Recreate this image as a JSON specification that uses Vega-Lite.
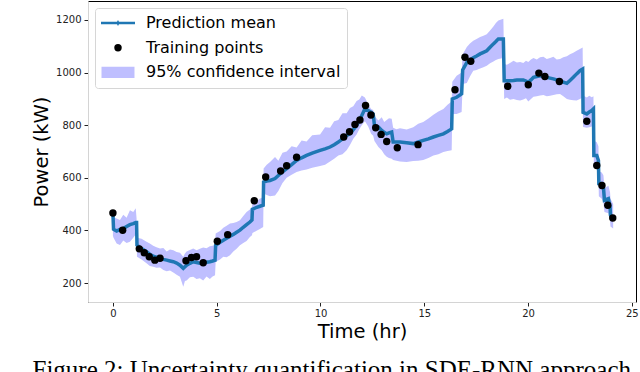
{
  "$schema": "https://vega.github.io/schema/vega-lite/v6.json",
  "width": 548,
  "height": 301,
  "autosize": {"type": "none"},
  "padding": {"left": 88, "top": 1, "right": 4, "bottom": 70},
  "background": "white",
  "title": {
    "text": "Figure 2: Uncertainty quantification in SDE-RNN approach.",
    "orient": "bottom",
    "anchor": "middle",
    "frame": "bounds",
    "font": "Liberation Serif",
    "fontSize": 25,
    "fontWeight": "normal",
    "color": "#000",
    "offset": 17
  },
  "config": {
    "view": {"stroke": "#000", "strokeWidth": 1},
    "font": "DejaVu Sans",
    "axis": {
      "labelFont": "DejaVu Sans", "labelFontSize": 10, "labelColor": "#222",
      "tickColor": "#222", "tickSize": 4, "domainColor": "#d4d4d4",
      "titleFont": "DejaVu Sans", "titleFontSize": 19.5, "titleFontWeight": "normal",
      "titleColor": "#000", "grid": false, "labelPadding": 2
    },
    "axisY": {"titlePadding": 4, "labelPadding": 3},
    "axisX": {"titlePadding": 4},
    "legend": {
      "orient": "top-left", "offset": 7, "padding": 6, "title": null,
      "strokeColor": "#d6d6d6", "fillColor": "rgba(255,255,255,0.8)", "cornerRadius": 3,
      "labelFont": "DejaVu Sans", "labelFontSize": 16, "labelColor": "#000", "labelLimit": 400,
      "symbolSize": 1156, "clipHeight": 18, "rowPadding": 6.7, "labelOffset": 11,
      "symbolStrokeWidth": 0, "symbolOpacity": 1
    }
  },
  "datasets": {
    "pred": [
      {"t": 0, "mean": 466, "lo": 380, "hi": 455},
      {"t": 0.03, "mean": 405, "lo": 372, "hi": 450},
      {"t": 0.18, "mean": 398, "lo": 350, "hi": 445},
      {"t": 0.34, "mean": 404, "lo": 345, "hi": 440},
      {"t": 0.5, "mean": 407, "lo": 362, "hi": 460},
      {"t": 0.66, "mean": 415, "lo": 352, "hi": 448},
      {"t": 0.82, "mean": 422, "lo": 357, "hi": 477},
      {"t": 0.98, "mean": 426, "lo": 372, "hi": 470},
      {"t": 1.1, "mean": 430, "lo": 385, "hi": 484},
      {"t": 1.14, "mean": 430, "lo": 392, "hi": 445},
      {"t": 1.16, "mean": 344, "lo": 300, "hi": 372},
      {"t": 1.38, "mean": 331, "lo": 290, "hi": 368},
      {"t": 1.62, "mean": 319, "lo": 275, "hi": 357},
      {"t": 1.78, "mean": 310, "lo": 265, "hi": 350},
      {"t": 1.94, "mean": 302, "lo": 262, "hi": 342},
      {"t": 2.1, "mean": 298, "lo": 258, "hi": 336},
      {"t": 2.27, "mean": 294, "lo": 259, "hi": 331},
      {"t": 2.43, "mean": 290, "lo": 250, "hi": 333},
      {"t": 2.59, "mean": 287, "lo": 245, "hi": 320},
      {"t": 2.75, "mean": 284, "lo": 248, "hi": 328},
      {"t": 2.91, "mean": 281, "lo": 240, "hi": 325},
      {"t": 3.07, "mean": 276, "lo": 232, "hi": 318},
      {"t": 3.23, "mean": 268, "lo": 224, "hi": 315},
      {"t": 3.39, "mean": 256, "lo": 186, "hi": 300},
      {"t": 3.47, "mean": 262, "lo": 208, "hi": 312},
      {"t": 3.55, "mean": 268, "lo": 210, "hi": 320},
      {"t": 3.71, "mean": 275, "lo": 222, "hi": 326},
      {"t": 3.87, "mean": 281, "lo": 224, "hi": 331},
      {"t": 4.03, "mean": 278, "lo": 215, "hi": 325},
      {"t": 4.19, "mean": 275, "lo": 218, "hi": 330},
      {"t": 4.35, "mean": 277, "lo": 210, "hi": 335},
      {"t": 4.51, "mean": 279, "lo": 225, "hi": 332},
      {"t": 4.67, "mean": 281, "lo": 215, "hi": 340},
      {"t": 4.8, "mean": 284, "lo": 225, "hi": 342},
      {"t": 4.92, "mean": 287, "lo": 230, "hi": 345},
      {"t": 4.95, "mean": 344, "lo": 280, "hi": 388},
      {"t": 5.16, "mean": 355, "lo": 290, "hi": 398},
      {"t": 5.32, "mean": 363, "lo": 300, "hi": 410},
      {"t": 5.48, "mean": 370, "lo": 298, "hi": 418},
      {"t": 5.64, "mean": 378, "lo": 306, "hi": 426},
      {"t": 5.8, "mean": 385, "lo": 320, "hi": 428},
      {"t": 5.96, "mean": 393, "lo": 330, "hi": 432},
      {"t": 6.12, "mean": 401, "lo": 344, "hi": 439},
      {"t": 6.28, "mean": 412, "lo": 352, "hi": 455},
      {"t": 6.44, "mean": 422, "lo": 360, "hi": 470},
      {"t": 6.6, "mean": 432, "lo": 375, "hi": 480},
      {"t": 6.7, "mean": 440, "lo": 382, "hi": 490},
      {"t": 6.72, "mean": 480, "lo": 390, "hi": 502},
      {"t": 6.9, "mean": 487, "lo": 398, "hi": 510},
      {"t": 7.08, "mean": 492, "lo": 405, "hi": 520},
      {"t": 7.24, "mean": 496, "lo": 413, "hi": 527},
      {"t": 7.26, "mean": 584, "lo": 540, "hi": 635},
      {"t": 7.41, "mean": 588, "lo": 535, "hi": 650},
      {"t": 7.57, "mean": 590, "lo": 530, "hi": 660},
      {"t": 7.81, "mean": 597, "lo": 533, "hi": 679},
      {"t": 7.97, "mean": 609, "lo": 550, "hi": 665},
      {"t": 8.17, "mean": 622, "lo": 580, "hi": 695},
      {"t": 8.37, "mean": 635, "lo": 600, "hi": 700},
      {"t": 8.61, "mean": 650, "lo": 612, "hi": 720},
      {"t": 8.85, "mean": 666, "lo": 622, "hi": 715},
      {"t": 9.09, "mean": 676, "lo": 628, "hi": 742},
      {"t": 9.33, "mean": 685, "lo": 632, "hi": 738},
      {"t": 9.6, "mean": 694, "lo": 638, "hi": 762},
      {"t": 9.98, "mean": 704, "lo": 645, "hi": 765},
      {"t": 10.22, "mean": 710, "lo": 650, "hi": 792},
      {"t": 10.46, "mean": 717, "lo": 662, "hi": 790},
      {"t": 10.66, "mean": 726, "lo": 672, "hi": 815},
      {"t": 10.86, "mean": 736, "lo": 685, "hi": 820},
      {"t": 11.06, "mean": 748, "lo": 690, "hi": 845},
      {"t": 11.26, "mean": 761, "lo": 705, "hi": 845},
      {"t": 11.42, "mean": 767, "lo": 725, "hi": 865},
      {"t": 11.58, "mean": 783, "lo": 748, "hi": 872},
      {"t": 11.74, "mean": 799, "lo": 765, "hi": 892},
      {"t": 11.87, "mean": 818, "lo": 785, "hi": 898},
      {"t": 11.99, "mean": 837, "lo": 800, "hi": 913},
      {"t": 12.14, "mean": 862, "lo": 815, "hi": 905},
      {"t": 12.3, "mean": 856, "lo": 795, "hi": 880},
      {"t": 12.44, "mean": 849, "lo": 767, "hi": 862},
      {"t": 12.54, "mean": 843, "lo": 760, "hi": 858},
      {"t": 12.6, "mean": 799, "lo": 740, "hi": 835},
      {"t": 12.79, "mean": 793, "lo": 717, "hi": 818},
      {"t": 12.95, "mean": 780, "lo": 705, "hi": 830},
      {"t": 13.07, "mean": 773, "lo": 690, "hi": 812},
      {"t": 13.19, "mean": 767, "lo": 680, "hi": 820},
      {"t": 13.3, "mean": 771, "lo": 675, "hi": 826},
      {"t": 13.43, "mean": 774, "lo": 672, "hi": 824},
      {"t": 13.5, "mean": 736, "lo": 668, "hi": 790},
      {"t": 13.66, "mean": 736, "lo": 665, "hi": 785},
      {"t": 13.83, "mean": 736, "lo": 662, "hi": 788},
      {"t": 14.15, "mean": 733, "lo": 660, "hi": 784},
      {"t": 14.47, "mean": 730, "lo": 664, "hi": 792},
      {"t": 14.71, "mean": 736, "lo": 665, "hi": 805},
      {"t": 14.95, "mean": 742, "lo": 668, "hi": 812},
      {"t": 15.2, "mean": 748, "lo": 675, "hi": 825},
      {"t": 15.44, "mean": 755, "lo": 685, "hi": 840},
      {"t": 15.68, "mean": 761, "lo": 690, "hi": 852},
      {"t": 15.92, "mean": 767, "lo": 698, "hi": 862},
      {"t": 16.12, "mean": 776, "lo": 702, "hi": 878},
      {"t": 16.32, "mean": 786, "lo": 705, "hi": 890},
      {"t": 16.35, "mean": 900, "lo": 843, "hi": 965},
      {"t": 16.56, "mean": 906, "lo": 843, "hi": 988},
      {"t": 16.8, "mean": 919, "lo": 850, "hi": 1000},
      {"t": 16.85, "mean": 1010, "lo": 957, "hi": 1070},
      {"t": 17.05, "mean": 1039, "lo": 960, "hi": 1097},
      {"t": 17.2, "mean": 1048, "lo": 985, "hi": 1110},
      {"t": 17.36, "mean": 1056, "lo": 1007, "hi": 1121},
      {"t": 17.52, "mean": 1063, "lo": 1010, "hi": 1128},
      {"t": 17.69, "mean": 1071, "lo": 1015, "hi": 1135},
      {"t": 17.85, "mean": 1077, "lo": 1020, "hi": 1140},
      {"t": 18.01, "mean": 1083, "lo": 1026, "hi": 1146},
      {"t": 18.17, "mean": 1096, "lo": 1035, "hi": 1160},
      {"t": 18.33, "mean": 1109, "lo": 1042, "hi": 1175},
      {"t": 18.45, "mean": 1118, "lo": 1048, "hi": 1188},
      {"t": 18.57, "mean": 1128, "lo": 1052, "hi": 1198},
      {"t": 18.81, "mean": 1128, "lo": 1055, "hi": 1205},
      {"t": 18.85, "mean": 969, "lo": 900, "hi": 1033},
      {"t": 18.98, "mean": 969, "lo": 905, "hi": 1030},
      {"t": 19.13, "mean": 969, "lo": 897, "hi": 1036},
      {"t": 19.3, "mean": 970, "lo": 900, "hi": 1045},
      {"t": 19.46, "mean": 972, "lo": 896, "hi": 1038},
      {"t": 19.62, "mean": 972, "lo": 894, "hi": 1040},
      {"t": 19.77, "mean": 972, "lo": 898, "hi": 1036},
      {"t": 19.9, "mean": 968, "lo": 902, "hi": 1045},
      {"t": 20.01, "mean": 963, "lo": 890, "hi": 1040},
      {"t": 20.14, "mean": 972, "lo": 900, "hi": 1050},
      {"t": 20.26, "mean": 982, "lo": 908, "hi": 1055},
      {"t": 20.42, "mean": 985, "lo": 910, "hi": 1050},
      {"t": 20.58, "mean": 988, "lo": 913, "hi": 1058},
      {"t": 20.74, "mean": 985, "lo": 915, "hi": 1060},
      {"t": 20.9, "mean": 982, "lo": 910, "hi": 1052},
      {"t": 21.06, "mean": 979, "lo": 912, "hi": 1055},
      {"t": 21.22, "mean": 976, "lo": 915, "hi": 1060},
      {"t": 21.38, "mean": 972, "lo": 918, "hi": 1050},
      {"t": 21.54, "mean": 969, "lo": 919, "hi": 1052},
      {"t": 21.7, "mean": 964, "lo": 910, "hi": 1058},
      {"t": 21.87, "mean": 959, "lo": 900, "hi": 1062},
      {"t": 22.02, "mean": 970, "lo": 897, "hi": 1070},
      {"t": 22.18, "mean": 982, "lo": 895, "hi": 1075},
      {"t": 22.34, "mean": 995, "lo": 894, "hi": 1083},
      {"t": 22.5, "mean": 1007, "lo": 900, "hi": 1090},
      {"t": 22.63, "mean": 1013, "lo": 905, "hi": 1095},
      {"t": 22.65, "mean": 849, "lo": 793, "hi": 913},
      {"t": 22.83, "mean": 843, "lo": 790, "hi": 905},
      {"t": 22.95, "mean": 850, "lo": 792, "hi": 912},
      {"t": 23.07, "mean": 856, "lo": 795, "hi": 906},
      {"t": 23.15, "mean": 862, "lo": 800, "hi": 910},
      {"t": 23.17, "mean": 685, "lo": 641, "hi": 742},
      {"t": 23.31, "mean": 685, "lo": 635, "hi": 735},
      {"t": 23.39, "mean": 666, "lo": 620, "hi": 720},
      {"t": 23.41, "mean": 578, "lo": 530, "hi": 625},
      {"t": 23.55, "mean": 578, "lo": 520, "hi": 620},
      {"t": 23.63, "mean": 565, "lo": 505, "hi": 610},
      {"t": 23.68, "mean": 515, "lo": 470, "hi": 560},
      {"t": 23.87, "mean": 521, "lo": 465, "hi": 570},
      {"t": 23.95, "mean": 490, "lo": 440, "hi": 545},
      {"t": 23.97, "mean": 458, "lo": 415, "hi": 520},
      {"t": 24.1, "mean": 445, "lo": 407, "hi": 500}
    ],
    "train": [
      {"t": 0, "power": 466}, {"t": 0.47, "power": 401}, {"t": 1.27, "power": 330},
      {"t": 1.51, "power": 315}, {"t": 1.75, "power": 300}, {"t": 2.02, "power": 287},
      {"t": 2.27, "power": 294}, {"t": 3.52, "power": 285}, {"t": 3.78, "power": 297},
      {"t": 4.03, "power": 300}, {"t": 4.35, "power": 277}, {"t": 5.03, "power": 359},
      {"t": 5.53, "power": 384}, {"t": 6.81, "power": 513}, {"t": 7.36, "power": 603},
      {"t": 8.08, "power": 626}, {"t": 8.37, "power": 646}, {"t": 8.85, "power": 678},
      {"t": 11.12, "power": 755}, {"t": 11.4, "power": 775}, {"t": 11.66, "power": 803},
      {"t": 11.9, "power": 820}, {"t": 12.17, "power": 875}, {"t": 12.43, "power": 839},
      {"t": 12.66, "power": 790}, {"t": 12.92, "power": 765}, {"t": 13.19, "power": 738},
      {"t": 13.7, "power": 714}, {"t": 14.7, "power": 726}, {"t": 16.48, "power": 935},
      {"t": 16.96, "power": 1058}, {"t": 17.24, "power": 1043}, {"t": 19.02, "power": 948},
      {"t": 20.01, "power": 954}, {"t": 20.52, "power": 998}, {"t": 20.81, "power": 985},
      {"t": 21.51, "power": 966}, {"t": 22.83, "power": 815}, {"t": 23.31, "power": 647},
      {"t": 23.56, "power": 571}, {"t": 23.84, "power": 496}, {"t": 24.08, "power": 447}
    ]
  },
  "layer": [
    {
      "data": {"name": "pred"},
      "mark": {"type": "area", "opacity": 1},
      "encoding": {
        "x": {"field": "t", "type": "quantitative", "scale": {"domain": [-1.2, 25.2], "nice": false, "zero": false},
              "axis": {"values": [0, 5, 10, 15, 20, 25], "title": "Time (hr)"}},
        "y": {"field": "lo", "type": "quantitative", "scale": {"domain": [128, 1272], "nice": false, "zero": false},
              "axis": {"values": [200, 400, 600, 800, 1000, 1200], "format": "d", "title": "Power (kW)"}},
        "y2": {"field": "hi"},
        "color": {
          "datum": "95% confidence interval", "type": "nominal",
          "scale": {"domain": ["Prediction mean", "Training points", "95% confidence interval"],
                    "range": ["#1f77b4", "#000000", "#bfbfff"]},
          "legend": {"title": null}
        }
      }
    },
    {
      "data": {"name": "pred"},
      "mark": {"type": "line", "strokeWidth": 3.5},
      "encoding": {
        "x": {"field": "t", "type": "quantitative", "axis": {"values": [0, 5, 10, 15, 20, 25], "title": "Time (hr)"}},
        "y": {"field": "mean", "type": "quantitative", "axis": {"values": [200, 400, 600, 800, 1000, 1200], "format": "d", "title": "Power (kW)"}},
        "color": {"datum": "Prediction mean", "type": "nominal", "legend": {"title": null}}
      }
    },
    {
      "data": {"name": "train"},
      "mark": {"type": "point", "filled": true, "opacity": 1},
      "encoding": {
        "x": {"field": "t", "type": "quantitative", "axis": {"values": [0, 5, 10, 15, 20, 25], "title": "Time (hr)"}},
        "y": {"field": "power", "type": "quantitative", "axis": {"values": [200, 400, 600, 800, 1000, 1200], "format": "d", "title": "Power (kW)"}},
        "color": {"datum": "Training points", "type": "nominal", "legend": {"title": null}},
        "shape": {
          "datum": "Training points", "type": "nominal",
          "scale": {"domain": ["Prediction mean", "Training points", "95% confidence interval"],
                    "range": ["M-1,-0.07H1V0.07H-1Z M0,-0.17L0.1,0L0,0.17L-0.1,0Z", "circle", "M-0.97,-0.33H0.97V0.33H-0.97Z"]},
          "legend": {"title": null}
        },
        "size": {
          "datum": "Training points", "type": "nominal",
          "scale": {"type": "ordinal", "domain": ["Prediction mean", "Training points", "95% confidence interval"],
                    "range": [1156, 55, 1156]},
          "legend": {"title": null}
        }
      }
    }
  ]
}
